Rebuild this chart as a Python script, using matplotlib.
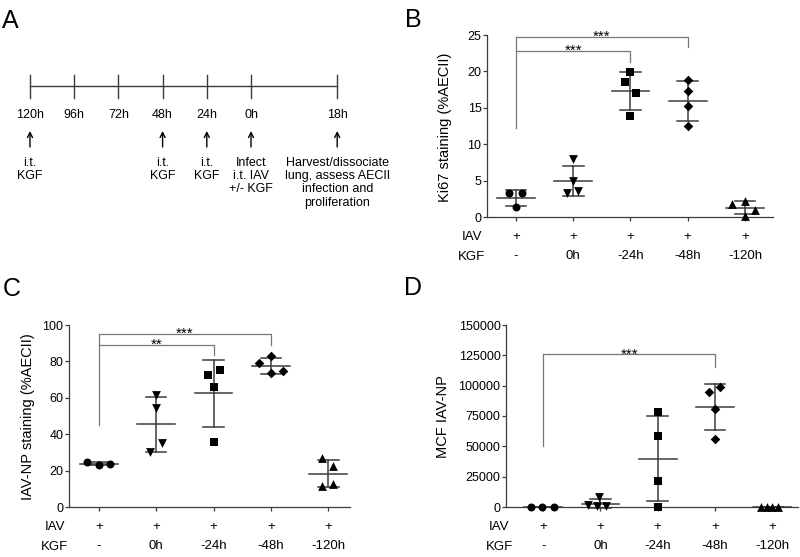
import matplotlib.pyplot as plt
import numpy as np

plt.rcParams['font.family'] = ['Liberation Sans', 'DejaVu Sans']

# ---- panel A: timeline ----
time_labels = ['120h', '96h', '72h', '48h', '24h', '0h', '18h']
time_slots = [0, 1, 2, 3, 4, 5, 6.95]
step_text = {
    0: 'i.t.\nKGF',
    3: 'i.t.\nKGF',
    4: 'i.t.\nKGF',
    5: 'Infect\ni.t. IAV\n+/- KGF',
    6: 'Harvest/dissociate\nlung, assess AECII\ninfection and\nproliferation',
}

# ---- panels B-D: groups ----
iav_labels = ['+', '+', '+', '+', '+']
kgf_labels = ['-', '0h', '-24h', '-48h', '-120h']
markers = ['o', 'v', 's', 'D', '^']
msize = [33, 40, 28, 24, 40]

ki67 = [[3.3, 3.3, 1.4],
        [7.9, 4.9, 3.3, 3.6],
        [19.9, 18.5, 17.0, 13.9],
        [18.8, 17.3, 15.3, 12.5],
        [1.8, 2.2, 0.9, 0.2]]
ki67_jit = [[-0.13, 0.1, 0], [0, 0, -0.1, 0.09], [0, -0.1, 0.09, 0],
            [0, 0, 0, 0], [-0.23, 0, 0.18, 0]]

np_stain = [[24.8, 22.9, 23.9],
            [61.5, 54.2, 35.3, 30.4],
            [72.8, 75.2, 65.7, 35.8],
            [78.9, 82.9, 73.4, 74.9],
            [26.8, 22.7, 11.5, 12.6]]
np_jit = [[-0.2, 0, 0.2], [0, 0, 0.1, -0.1], [-0.09, 0.11, 0, 0],
          [-0.2, 0, 0, 0.21], [-0.11, 0.09, -0.11, 0.09]]

mcf = [[300, 400, 200],
       [1500, 500, 1000, 8500],
       [78000, 58800, 21700, 300],
       [94500, 98600, 80800, 55800],
       [150, 80, 120, 60]]
mcf_jit = [[-0.21, -0.02, 0.18], [-0.22, -0.06, 0.09, -0.03], [0, 0, 0, 0],
           [-0.1, 0.09, 0, 0], [-0.2, -0.1, 0, 0.1]]

fig = plt.figure(figsize=(8, 5.57), dpi=100)

line_c = '#3c3c3c'
brk_c = '#777777'

# panel A (pixel-like coordinates)
axA = fig.add_axes([0, 0.5, 0.5, 0.5])
axA.set_xlim(-30 / 44.2, 370 / 44.2)
axA.set_ylim(278.5, 0)
axA.axis('off')
axA.plot([time_slots[0], time_slots[-1]], [86, 86], color=line_c, lw=1)
for i, (s, lab) in enumerate(zip(time_slots, time_labels)):
    axA.plot([s, s], [75, 98], color=line_c, lw=1)
    axA.text(s, 118, lab, ha='center', va='baseline', fontsize=9)
    if i in step_text:
        axA.annotate('', xy=(s, 131), xytext=(s, 147),
                     arrowprops=dict(arrowstyle='->', lw=1, color='black',
                                     shrinkA=0, shrinkB=0, mutation_scale=9))
        axA.text(s, 157, step_text[i], ha='center', va='top',
                 fontsize=9, linespacing=1.13)


def dot_panel(rect, data, jit, ymax, yticks, ylabel, xlim, brackets, legbase, ylab_x):
    ax = fig.add_axes(rect)
    for i, (vals, jj) in enumerate(zip(data, jit)):
        vals = np.array(vals, float)
        m, sd = vals.mean(), vals.std(ddof=1)
        ax.scatter(i + np.array(jj), vals, marker=markers[i], s=msize[i],
                   c='black', linewidths=0, zorder=4, clip_on=False)
        ax.plot([i - 0.33, i + 0.33], [m, m], color=line_c, lw=1.1, zorder=3)
        ax.plot([i - 0.18, i + 0.18], [m + sd, m + sd], color=line_c, lw=1.1, zorder=3, clip_on=False)
        ax.plot([i - 0.18, i + 0.18], [m - sd, m - sd], color=line_c, lw=1.1, zorder=3, clip_on=False)
        ax.plot([i, i], [m - sd, m + sd], color=line_c, lw=1.1, zorder=3, clip_on=False)
    ax.set_xlim(*xlim)
    ax.set_ylim(0, ymax)
    ax.set_yticks(yticks)
    ax.set_xticks(range(5))
    ax.set_xticklabels([])
    for sp in ['top', 'right']:
        ax.spines[sp].set_visible(False)
    for sp in ['left', 'bottom']:
        ax.spines[sp].set_color(line_c)
        ax.spines[sp].set_linewidth(0.9)
    ax.tick_params(axis='y', length=3, width=0.9, pad=1, labelsize=9, color=line_c)
    ax.tick_params(axis='x', length=3, width=0.9, color=line_c)
    # group labels rows
    for i in range(5):
        ax.annotate(iav_labels[i], xy=(i, 0), xycoords=('data', 'axes fraction'),
                    xytext=(0, -20), textcoords='offset pixels',
                    ha='center', va='center', fontsize=9.5, annotation_clip=False)
        ax.annotate(kgf_labels[i], xy=(i, 0), xycoords=('data', 'axes fraction'),
                    xytext=(0, -39), textcoords='offset pixels',
                    ha='center', va='center', fontsize=9.5, annotation_clip=False)
    for k, lab in enumerate(['IAV', 'KGF']):
        ax.annotate(lab, xy=(-0.77, 0), xycoords=('data', 'axes fraction'),
                    xytext=(0, -20 - 19.5 * k), textcoords='offset pixels',
                    ha='center', va='center', fontsize=9.5, annotation_clip=False)
    ax.text(ylab_x, 0.495, ylabel, transform=ax.transAxes, rotation=90,
            ha='center', va='center', fontsize=10.5)
    # significance brackets
    for (g, ytop, yend, star) in brackets:
        ax.plot([g, g, 0], [yend, ytop, ytop], color=brk_c, lw=0.9, clip_on=False)
        ax.annotate(star, xy=(g / 2, ytop), xytext=(0, -4), textcoords='offset pixels',
                    ha='center', va='baseline', fontsize=11, annotation_clip=False)
    ax.plot([0, 0], [legbase, max(b[1] for b in brackets)], color=brk_c, lw=0.9)
    return ax


dot_panel([487 / 800, 1 - 217 / 557, 286 / 800, 182 / 557], ki67, ki67_jit, 25,
          [0, 5, 10, 15, 20, 25], 'Ki67 staining (%AECII)', (-0.506, 4.49),
          [(3, 24.7, 23.3, '***'), (2, 22.85, 21.3, '***')], 12.2, -0.147)

dot_panel([69 / 800, 1 - 507 / 557, 281 / 800, 182 / 557], np_stain, np_jit, 100,
          [0, 20, 40, 60, 80, 100], 'IAV-NP staining (%AECII)', (-0.52, 4.38),
          [(3, 95, 89, '***'), (2, 89, 83.5, '**')], 45, -0.146)

dot_panel([506 / 800, 1 - 507 / 557, 292 / 800, 182 / 557], mcf, mcf_jit, 150000,
          [0, 25000, 50000, 75000, 100000, 125000, 150000], 'MCF IAV-NP', (-0.65, 4.45),
          [(3, 125800, 115600, '***')], 50400, -0.216)

# panel letters
for lab, x, y in [('A', 2, 28), ('B', 405, 27), ('C', 3, 296), ('D', 404, 295)]:
    fig.text(x / 800, 1 - y / 557, lab, fontsize=18, ha='left', va='baseline')

fig.savefig('out.png', dpi=100)
